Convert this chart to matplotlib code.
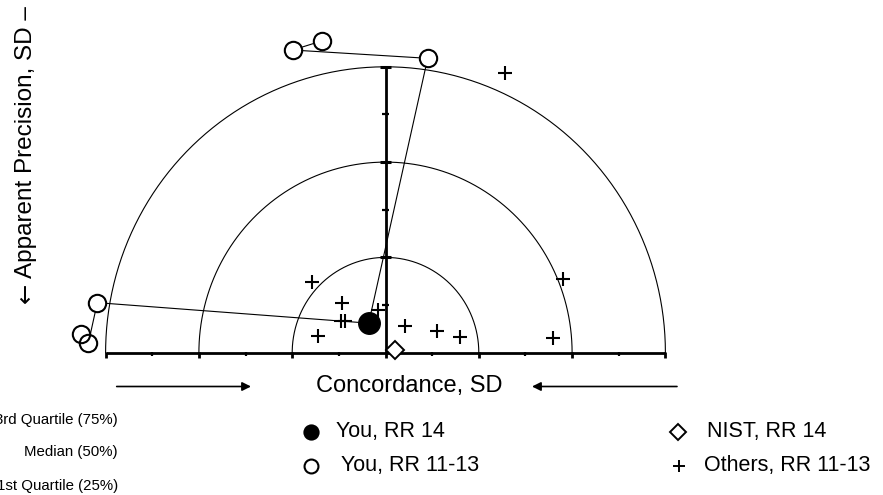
import numpy as np
import matplotlib
matplotlib.use('Agg')
import matplotlib.pyplot as plt
from matplotlib.lines import Line2D

plt.rcParams['font.family'] = ['Liberation Sans', 'DejaVu Sans']

# ---------------- data (SD units) ----------------
radii = [1, 2, 3]
quartile_labels = ['3rd Quartile (75%)', 'Median (50%)', '1st Quartile (25%)']

you14_x = [-0.18]
you14_y = [0.31]

you_prev_x = [-0.684, -0.995, 0.452, -3.267, -3.185, -3.089]
you_prev_y = [3.271, 3.176, 3.089, 0.193, 0.099, 0.525]
# trajectories through earlier rounds, each ending at "You, RR 14"
tracks = [[0, 1, 2], [4, 5]]

nist_x = [0.102]
nist_y = [0.028]

others_x = [1.281, -0.791, 1.899, -0.469, -0.477, -0.434, -0.077, -0.720,
            0.209, 0.549, 0.798, 1.792]
others_y = [2.938, 0.745, 0.770, 0.525, 0.336, 0.336, 0.448, 0.175,
            0.280, 0.231, 0.162, 0.151]

legend_labels = ['You, RR 14', 'You, RR 11-13', 'NIST, RR 14', 'Others, RR 11-13']

x_label = 'Concordance, SD'
y_label = 'Apparent Precision, SD \u2013'
y_arrow = '\u2190'

# ---------------- layout ----------------
W, H, DPI = 883, 495, 100
cx, cy = 385.5, 352.7       # pixel position of origin
sx, sy = 93.3, 95.3         # pixels per SD

fig = plt.figure(figsize=(W / DPI, H / DPI), dpi=DPI)
ax = fig.add_axes([0, 0, 1, 1])
ax.set_xlim(-cx / sx, (W - cx) / sx)
ax.set_ylim(-(H - cy) / sy, cy / sy)
ax.axis('off')


def fx(p):
    return p / W


def fy(p):
    return 1 - p / H


# semicircles
th = np.linspace(0, np.pi, 400)
for r in radii:
    ax.plot(r * np.cos(th), r * np.sin(th), color='k', lw=0.8, zorder=1)

rmax = max(radii)
# horizontal axis
ax.plot([-rmax, rmax], [0, 0], color='k', lw=2.0, solid_capstyle='butt', zorder=2)
for t in np.arange(-rmax, rmax + 0.01, 0.5):
    major = abs(t - round(t)) < 1e-6
    d = (5 if major else 3.5) / sy
    ax.plot([t, t], [0.01, -d], color='k', lw=2.0 if major else 1.6,
            solid_capstyle='butt', zorder=2)
# vertical axis
ax.plot([0, 0], [0, rmax], color='k', lw=2.0, solid_capstyle='butt', zorder=2)
for t in np.arange(0.5, rmax + 0.01, 0.5):
    major = abs(t - round(t)) < 1e-6
    hw = (5.5 if major else 3.5) / sx
    ax.plot([-hw, hw], [t, t], color='k', lw=2.2 if major else 1.6,
            solid_capstyle='butt', zorder=2)

# connecting lines
for tr in tracks:
    pts = [(you_prev_x[i], you_prev_y[i]) for i in tr] + [(you14_x[0], you14_y[0])]
    for k in range(len(pts) - 1):
        sB = 7.6 if k == len(pts) - 2 else 6.5
        ax.annotate('', xy=pts[k + 1], xytext=pts[k],
                    arrowprops=dict(arrowstyle='-', lw=0.8, color='k',
                                    shrinkA=6.5, shrinkB=sB), zorder=3)

# markers
ax.plot(others_x, others_y, ls='none', marker='+', ms=9.5, mew=1.5, color='k', zorder=4)
ax.plot(you_prev_x, you_prev_y, ls='none', marker='o', ms=12.5, mew=1.5,
        mfc='none', mec='k', zorder=5)
ax.plot(you14_x, you14_y, ls='none', marker='o', ms=15.5, mfc='k', mec='k', zorder=6)
ax.plot(nist_x, nist_y, ls='none', marker='D', ms=9.5, mew=1.4, mfc='white',
        mec='k', zorder=6)

# axis labels and arrows
fig.text(fx(409.5), fy(386), x_label, fontsize=17, ha='center', va='center')
ax.annotate('', xy=(fx(251), fy(386.5)), xytext=(fx(116.7), fy(386.5)),
            xycoords='figure fraction', textcoords='figure fraction',
            arrowprops=dict(arrowstyle='-|>', lw=1.2, color='k', mutation_scale=13,
                            shrinkA=0, shrinkB=0))
ax.annotate('', xy=(fx(532), fy(386.5)), xytext=(fx(677), fy(386.5)),
            xycoords='figure fraction', textcoords='figure fraction',
            arrowprops=dict(arrowstyle='-|>', lw=1.2, color='k', mutation_scale=13,
                            shrinkA=0, shrinkB=0))
fig.text(fx(26.5), fy(6), y_label, fontsize=17.5, rotation=90, ha='center', va='top')
fig.text(fx(25.5), fy(293), y_arrow, fontsize=17.5, rotation=90, ha='center',
         va='center', family=['DejaVu Sans'])

# quartile labels
for lab, yy in zip(quartile_labels, [420, 452, 486]):
    fig.text(fx(118), fy(yy), lab, fontsize=10.8, ha='right', va='center')

# legend (manual)
leg_styles = [
    dict(marker='o', ms=10.5, mfc='k', mec='k', mew=1.2),
    dict(marker='o', ms=10, mfc='none', mec='k', mew=1.5),
    dict(marker='D', ms=8.5, mfc='none', mec='k', mew=1.4),
    dict(marker='+', ms=9, mec='k', mew=1.4),
]
leg_marker_pos = [(311, 432), (311, 466), (678, 432), (679, 466)]
leg_text_pos = [(336, 432), (341, 466), (707, 432), (704, 466)]
for lab, st, (mx, my), (tx, ty) in zip(legend_labels, leg_styles,
                                       leg_marker_pos, leg_text_pos):
    fig.add_artist(Line2D([fx(mx)], [fy(my)], ls='none', color='k',
                          transform=fig.transFigure, **st))
    fig.text(fx(tx), fy(ty), lab, fontsize=15.5, ha='left', va='center')

fig.savefig('out.png', dpi=DPI)
